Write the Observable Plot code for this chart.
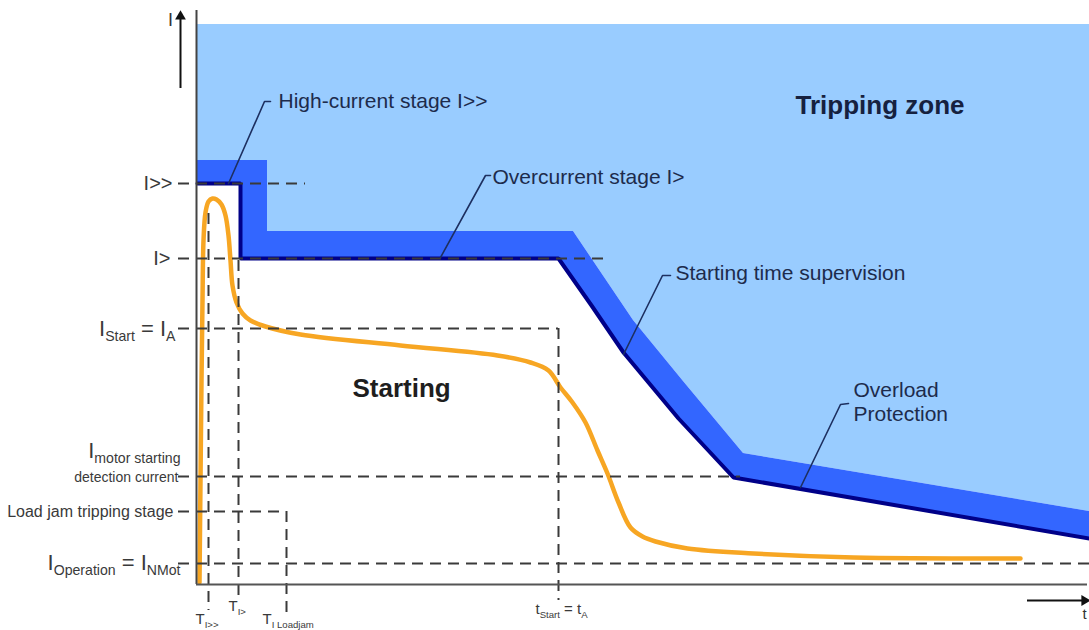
<!DOCTYPE html>
<html><head><meta charset="utf-8">
<script src="https://cdn.jsdelivr.net/npm/d3@7"></script>
<script src="https://cdn.jsdelivr.net/npm/@observablehq/plot@0.6"></script>
<style>body{margin:0;background:#fff;} #chart svg{display:block;}</style>
</head><body><div id="chart"></div>
<script>
// Diagram units: t = time from origin, I = current from origin
// Protection characteristic (lower edge, dark line)
const protT = [1, 44, 44, 362, 395, 427, 482, 537, 893];
const protI = [401, 401, 326, 326, 279, 232, 166, 107, 46];
// Upper edge of the tolerance band
const bandT = [1, 71, 71, 377, 408, 437, 487, 547, 893];
const bandI = [424, 424, 353, 353, 307, 264, 203, 131, 73];
const zoneTopI = 560;
// Motor starting current
const motorT = [3, 4, 5, 6, 7, 9, 12, 16, 20, 25, 29, 32, 34, 36, 40, 46, 54, 69, 104, 204, 301, 334, 352, 364, 376, 389, 401, 411, 422, 434, 446, 459, 491, 557, 657, 824];
const motorI = [2, 104, 204, 284, 344, 372, 383, 386, 385, 380, 369, 349, 324, 299, 282, 271, 264, 258, 250, 239, 229, 222, 214, 197, 182, 162, 134, 111, 82, 57, 48, 43, 36, 31, 27, 26];
// Dashed reference lines
const hDashI = [401, 326, 256, 108, 73, 21];
const hDashT1 = [-18, -18, -18, -18, -18, -18];
const hDashT2 = [109, 409, 362, 544, 90, 893];
const vDashT = [12, 42, 90, 362];
const vDashI1 = [371, 324, 73, 256];
const vDashI2 = [-26, -14, -28, -16];
// Left labels
const leftLabels = ["I>>", "I>", "I_{Start} = I_{A}", "I_{motor starting}", "detection current", "Load jam tripping stage", "I_{Operation} = I_{NMot}"];
const leftT = [-24, -26, -21, -16, -18, -23, -16];
const leftI = [401, 326, 256, 134, 107, 73, 22];
const leftSize = [20, 20, 22, 22, 14, 16, 22];
// Time tick labels
const tickLabels = ["T_{I>>}", "T_{I>}", "T_{I Loadjam}", "t_{Start} = t_{A}"];
const tickT = [-1, 32, 66, 339];
const tickI = [-35, -22, -35, -25];
const tickSize = [15, 15, 15, 15];
// Annotations
const annLabels = ["High-current stage I>>", "Overcurrent stage I>", "Starting time supervision", "Overload", "Protection"];
const annT = [82, 296, 479, 657, 657];
const annI = [483, 407, 311, 194, 170];
const boldLabels = ["Tripping zone", "Starting"];
const boldT = [599, 156];
const boldI = [479, 196];
const boldColor = ["#16213f", "#1e1e1e"];
// Leader lines
const leaderT = [[74, 68, 32], [294, 289, 244], [474, 466, 427], [652, 644, 604]];
const leaderI = [[483, 483, 401], [409, 409, 327], [309, 309, 230], [181, 180, 97]];
// Axis arrows
const arrowI = {t: -16, from: 496, to: 566};
const arrowT = {I: -16, from: 831, to: 886};

const prot = protT.map((t, i) => ({t, I: protI[i]}));
const band = bandT.map((t, i) => ({t, I: bandI[i]}));
const motor = motorT.map((t, i) => ({t, I: motorI[i]}));
const hDash = hDashI.map((I, i) => ({I, t1: hDashT1[i], t2: hDashT2[i]}));
const vDash = vDashT.map((t, i) => ({t, I1: vDashI1[i], I2: vDashI2[i]}));
const left = leftLabels.map((s, i) => ({s, t: leftT[i], I: leftI[i], fs: leftSize[i]}));
const ticks = tickLabels.map((s, i) => ({s, t: tickT[i], I: tickI[i], fs: tickSize[i]}));
const ann = annLabels.map((s, i) => ({s, t: annT[i], I: annI[i]}));
const bold = boldLabels.map((s, i) => ({s, t: boldT[i], I: boldI[i], c: boldColor[i]}));
const leaders = leaderT.flatMap((ts, g) => ts.map((t, k) => ({g, t, I: leaderI[g][k]})));

const navyText = "#1d2b4c";
const plot = Plot.plot({
  width: 1089, height: 630,
  margin: 0,
  x: {domain: [-196, 893], axis: null},
  y: {domain: [-46, 584], axis: null},
  style: {fontFamily: "'Liberation Sans', Arial, sans-serif", background: "#fff"},
  marks: [
    Plot.areaY(band, {x: "t", y1: "I", y2: () => zoneTopI, fill: "#99CCFF", curve: "linear"}),
    Plot.areaY(band, {x: "t", y1: () => 0, y2: "I", fill: "#3366FF", curve: "linear"}),
    Plot.areaY(prot, {x: "t", y1: () => 0, y2: "I", fill: "#ffffff", curve: "linear"}),
    Plot.line(prot, {x: "t", y: "I", stroke: "#000088", strokeWidth: 4, strokeLinejoin: "miter"}),
    Plot.line(motor, {x: "t", y: "I", stroke: "#F7A623", strokeWidth: 4.5, curve: "catmull-rom", strokeLinecap: "round"}),
    Plot.ruleY(hDash, {y: "I", x1: "t1", x2: "t2", stroke: "#3a3a3a", strokeWidth: 2, strokeDasharray: "11,7"}),
    Plot.ruleX(vDash, {x: "t", y1: "I1", y2: "I2", stroke: "#3a3a3a", strokeWidth: 2, strokeDasharray: "11,7"}),
    Plot.ruleX([0], {y1: 0, y2: 574, stroke: "#444", strokeWidth: 2}),
    Plot.ruleY([0], {x1: 0, x2: 891, stroke: "#555", strokeWidth: 2}),
    Plot.ruleX([arrowI.t], {y1: arrowI.from, y2: arrowI.to, stroke: "#111", strokeWidth: 2}),
    Plot.dot([arrowI.t], {x: d => d, y: () => arrowI.to + 2, symbol: "triangle", r: 4, fill: "#111", stroke: "none"}),
    Plot.ruleY([arrowT.I], {x1: arrowT.from, x2: arrowT.to, stroke: "#111", strokeWidth: 2}),
    Plot.dot([arrowT.I], {x: () => arrowT.to + 2, y: d => d, symbol: "triangle", rotate: 90, r: 4, fill: "#111", stroke: "none"}),
    Plot.text(["I"], {x: () => -26, y: () => 564, text: d => d, fontSize: 18, fill: "#333", textAnchor: "middle"}),
    Plot.text(["t"], {x: () => 886, y: () => -30, text: d => d, fontSize: 15, fill: "#333", textAnchor: "start"}),
    Plot.line(leaders, {x: "t", y: "I", z: "g", stroke: "#1d2f60", strokeWidth: 1.6}),
    Plot.text(left, {x: "t", y: "I", text: "s", fontSize: "fs", textAnchor: "end", fill: "#3a3a3a"}),
    Plot.text(ticks, {x: "t", y: "I", text: "s", fontSize: "fs", textAnchor: "start", fill: "#3a3a3a"}),
    Plot.text(ann, {x: "t", y: "I", text: "s", fontSize: 21, textAnchor: "start", fill: navyText}),
    Plot.text(bold, {x: "t", y: "I", text: "s", fontSize: 26, fontWeight: "bold", textAnchor: "start", fill: "c"})
  ]
});
document.getElementById("chart").appendChild(plot);

// Turn _{...} markup into real subscripts
d3.select(plot).selectAll("text").each(function() {
  const el = this;
  const s = el.textContent;
  if (!s.includes("_{")) return;
  const fs = parseFloat(getComputedStyle(el).fontSize);
  const parts = s.split(/(_\{[^}]*\})/).filter(p => p.length);
  while (el.firstChild) el.removeChild(el.firstChild);
  let low = false;
  for (const p of parts) {
    const ts = document.createElementNS("http://www.w3.org/2000/svg", "tspan");
    if (p.startsWith("_{")) {
      ts.textContent = p.slice(2, -1);
      ts.setAttribute("font-size", (fs * 0.64).toFixed(1));
      if (!low) ts.setAttribute("dy", (fs * 0.25).toFixed(1));
      low = true;
    } else {
      ts.textContent = p;
      if (low) ts.setAttribute("dy", (-fs * 0.25).toFixed(1));
      low = false;
    }
    el.appendChild(ts);
  }
});
</script>
</body></html>
